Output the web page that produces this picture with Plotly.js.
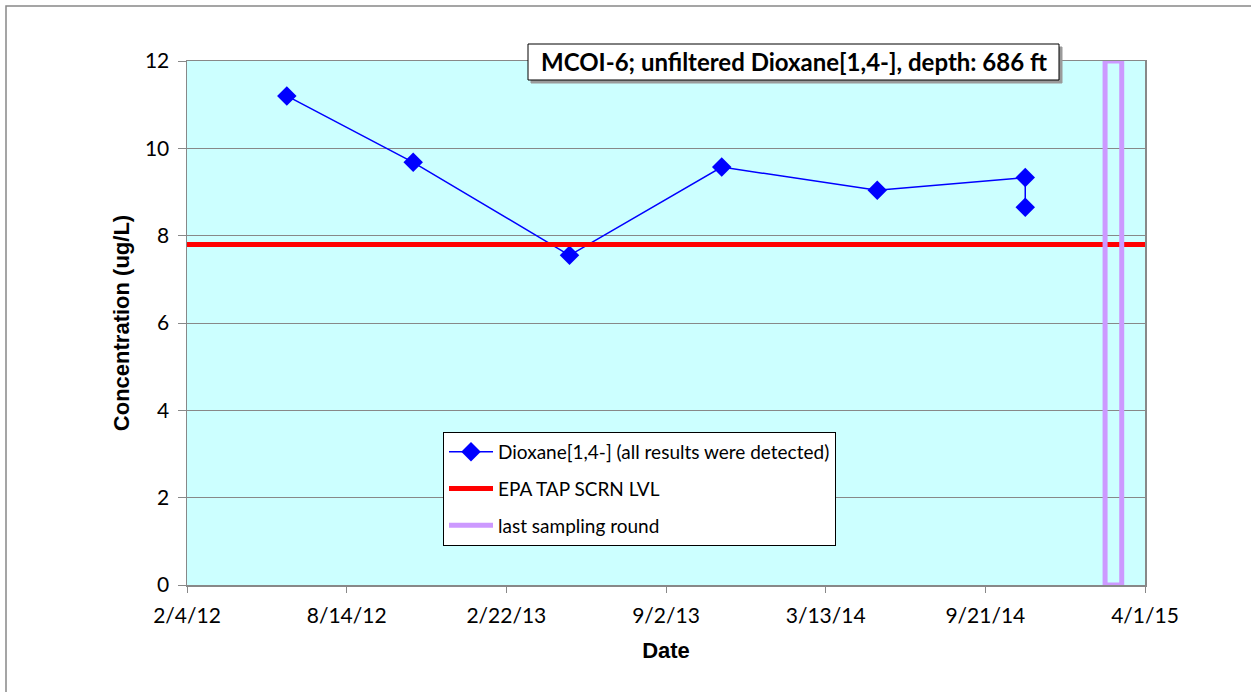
<!DOCTYPE html>
<html>
<head>
<meta charset="utf-8">
<script src="https://cdn.plot.ly/plotly-3.0.1.min.js"></script>
<style>html,body{margin:0;padding:0;background:#fff;}#chart{width:1251px;height:692px;}</style>
</head>
<body>
<div id="chart"></div>
<script>
// Data
const sampleDates = ['2012-06-03', '2012-11-02', '2013-05-09', '2013-11-08', '2014-05-14', '2014-11-08', '2014-11-08'];
const dioxaneValues = [11.2, 9.68, 7.55, 9.57, 9.04, 9.33, 8.65];
const screeningDates = ['2012-02-04', '2015-04-01'];
const screeningLevel = [7.8, 7.8];
const lastRoundDates = ['2015-02-12', '2015-02-12', '2015-03-04', '2015-03-04', '2015-02-12'];
const lastRoundValues = [0, 12, 12, 0, 0];
const xTickVals = ['2012-02-04', '2012-08-14', '2013-02-22', '2013-09-02', '2014-03-13', '2014-09-21', '2015-04-01'];
const xTickText = ['2/4/12', '8/14/12', '2/22/13', '9/2/13', '3/13/14', '9/21/14', '4/1/15'];
const yTickVals = [0, 2, 4, 6, 8, 10, 12];

const calibriLike = 'Lato, "Open Sans", sans-serif';
const arialLike = '"Liberation Sans", Arial, sans-serif';

const traces = [
  {
    x: sampleDates, y: dioxaneValues, type: 'scatter', mode: 'lines+markers',
    name: 'Dioxane[1,4-] (all results were detected)',
    line: {color: '#0000FF', width: 1.5},
    marker: {symbol: 'diamond', size: 15, color: '#0000FF'},
    legendgroup: 'a', cliponaxis: false
  },
  {
    x: screeningDates, y: screeningLevel, type: 'scatter', mode: 'lines',
    name: 'EPA TAP SCRN LVL',
    line: {color: '#FF0000', width: 5},
    legendgroup: 'b'
  },
  {
    x: lastRoundDates, y: lastRoundValues, type: 'scatter', mode: 'lines',
    name: 'last sampling round',
    line: {color: '#CC99FF', width: 5},
    legendgroup: 'c', cliponaxis: false
  }
];

// pixel helpers for the decorative frame / title box (plot area 187..1145 x 61..585)
const px = v => (v - 187) / 958;
const py = v => (585 - v) / 524;

const layout = {
  width: 1251, height: 692,
  margin: {l: 187, r: 106, t: 61, b: 107, pad: 0},
  paper_bgcolor: '#FFFFFF',
  plot_bgcolor: '#CCFFFF',
  showlegend: true,
  font: {family: calibriLike, size: 20, color: '#000'},
  xaxis: {
    type: 'date',
    range: ['2012-02-04', '2015-04-01'],
    tickmode: 'array', tickvals: xTickVals, ticktext: xTickText,
    ticks: 'outside', ticklen: 6, tickcolor: '#888', tickwidth: 1,
    showline: true, linecolor: '#888', linewidth: 1.5, mirror: true,
    showgrid: false, zeroline: false,
    tickfont: {family: calibriLike, size: 21, color: '#000'},
    ticklabelstandoff: 5,
    title: {text: '<b>Date</b>', font: {family: arialLike, size: 22, color: '#000'}, standoff: 17},
    automargin: false
  },
  yaxis: {
    range: [0, 12],
    tickmode: 'array', tickvals: yTickVals,
    ticks: 'outside', ticklen: 8, tickcolor: '#888', tickwidth: 1,
    showline: true, linecolor: '#888', linewidth: 1.5, mirror: true,
    showgrid: true, gridcolor: '#888', gridwidth: 1, zeroline: false,
    tickfont: {family: calibriLike, size: 21, color: '#000'},
    ticklabelstandoff: 4,
    title: {text: '<b>Concentration (ug/L)</b>', font: {family: arialLike, size: 22, color: '#000'}, standoff: 9},
    automargin: false
  },
  legend: {
    x: px(443), y: py(432), xanchor: 'left', yanchor: 'top',
    bgcolor: '#FFFFFF', bordercolor: '#000', borderwidth: 1,
    font: {family: calibriLike, size: 19, color: '#000'},
    itemwidth: 44,
    traceorder: 'grouped', tracegroupgap: 9
  },
  annotations: [
    {
      xref: 'paper', yref: 'paper', x: px(793.5), y: py(62), xanchor: 'center', yanchor: 'middle',
      text: '<b>MCOI-6; unfiltered Dioxane[1,4-], depth: 686 ft</b>', showarrow: false,
      font: {family: calibriLike, size: 24, color: '#000'}
    }
  ],
  shapes: [
    {
      type: 'rect', xref: 'paper', yref: 'paper',
      x0: px(6), x1: px(1300), y0: py(740), y1: py(6),
      line: {color: '#888', width: 1.5}, fillcolor: 'rgba(0,0,0,0)', layer: 'below'
    },
    {
      type: 'rect', xref: 'paper', yref: 'paper',
      x0: px(531), x1: px(1062), y0: py(83), y1: py(47),
      line: {color: '#9A9A9A', width: 1}, fillcolor: '#9A9A9A', layer: 'above'
    },
    {
      type: 'rect', xref: 'paper', yref: 'paper',
      x0: px(528), x1: px(1059), y0: py(80), y1: py(44),
      line: {color: '#000', width: 1}, fillcolor: '#FFFFFF', layer: 'above'
    }
  ]
};

Plotly.newPlot('chart', traces, layout, {displayModeBar: false, staticPlot: true});
</script>
</body>
</html>
